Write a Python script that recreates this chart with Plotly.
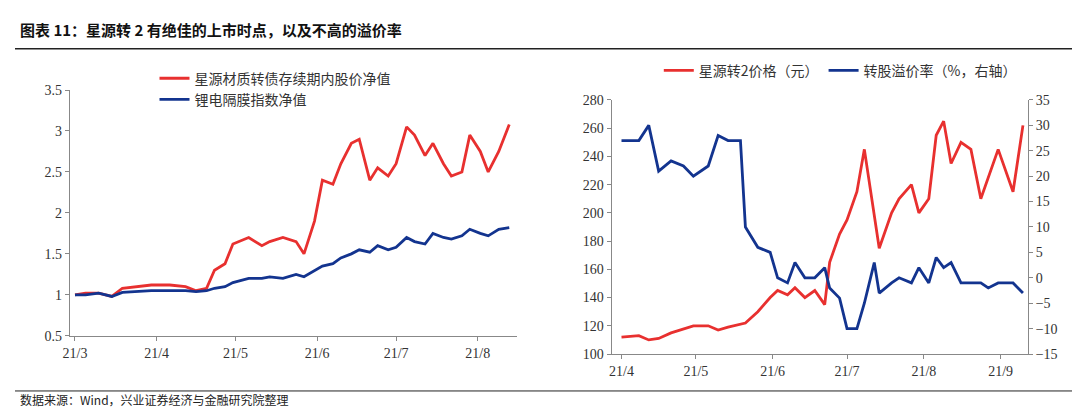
import plotly.graph_objects as go

# left panel: net values
l_dates = ["2021-03-01","2021-03-05","2021-03-10","2021-03-15","2021-03-19","2021-03-24","2021-03-30",
           "2021-04-06","2021-04-12","2021-04-16","2021-04-20","2021-04-23","2021-04-27","2021-04-30",
           "2021-05-06","2021-05-11","2021-05-14","2021-05-19","2021-05-24","2021-05-27","2021-05-31",
           "2021-06-03","2021-06-07","2021-06-10","2021-06-14","2021-06-17","2021-06-21","2021-06-24",
           "2021-06-28","2021-07-01","2021-07-05","2021-07-08","2021-07-12","2021-07-15","2021-07-19",
           "2021-07-22","2021-07-26","2021-07-29","2021-08-02","2021-08-05","2021-08-09","2021-08-13"]
stock_nv = [1.0,1.02,1.02,0.98,1.08,1.1,1.12,1.12,1.1,1.05,1.08,1.3,1.38,1.62,1.7,1.6,1.65,1.7,1.65,1.5,1.9,
            2.4,2.35,2.6,2.85,2.9,2.4,2.55,2.45,2.6,3.05,2.95,2.7,2.85,2.6,2.45,2.5,2.95,2.75,2.5,2.75,3.08]
index_nv = [1.0,1.0,1.02,0.98,1.03,1.04,1.05,1.05,1.05,1.04,1.05,1.08,1.1,1.15,1.2,1.2,1.22,1.2,1.25,1.22,1.3,
            1.35,1.38,1.45,1.5,1.55,1.52,1.6,1.55,1.58,1.7,1.65,1.62,1.75,1.7,1.68,1.72,1.8,1.75,1.72,1.8,1.82]

# right panel: bond price and premium
r_dates = ["2021-04-01","2021-04-08","2021-04-12","2021-04-16","2021-04-21","2021-04-26","2021-04-30",
           "2021-05-06","2021-05-10","2021-05-14","2021-05-19","2021-05-21","2021-05-26","2021-05-31",
           "2021-06-03","2021-06-07","2021-06-10","2021-06-14","2021-06-18","2021-06-22","2021-06-24",
           "2021-06-28","2021-07-01","2021-07-05","2021-07-08","2021-07-12","2021-07-14","2021-07-19",
           "2021-07-22","2021-07-27","2021-07-30","2021-08-03","2021-08-06","2021-08-09","2021-08-12",
           "2021-08-16","2021-08-20","2021-08-24","2021-08-27","2021-08-31","2021-09-06","2021-09-10"]
bond_price = [112,113,110,111,115,118,120,120,117,119,121,122,130,140,145,142,147,140,145,135,165,
              185,195,215,245,200,175,200,210,220,200,210,255,265,235,250,245,210,225,245,215,262]
premium = [27,27,30,21,23,22,20,22,28,27,27,10,6,5,0,-1,3,0,0,2,-2,
           -4,-10,-10,-5,3,-3,-1,0,-1,2,-1,4,2,3,-1,-1,-1,-2,-1,-1,-3]

RED = "#e8302f"
BLUE = "#13348f"
FONT = "Noto Sans CJK SC"

fig = go.Figure()
fig.add_trace(go.Scatter(x=l_dates, y=stock_nv, name="星源材质转债存续期内股价净值", line=dict(color=RED, width=2.8),
                         xaxis="x", yaxis="y", legend="legend"))
fig.add_trace(go.Scatter(x=l_dates, y=index_nv, name="锂电隔膜指数净值", line=dict(color=BLUE, width=2.8),
                         xaxis="x", yaxis="y", legend="legend"))
fig.add_trace(go.Scatter(x=r_dates, y=bond_price, name="星源转2价格（元）", line=dict(color=RED, width=2.8),
                         xaxis="x2", yaxis="y2", legend="legend2"))
fig.add_trace(go.Scatter(x=r_dates, y=premium, name="转股溢价率（%，右轴）", line=dict(color=BLUE, width=2.8),
                         xaxis="x2", yaxis="y3", legend="legend2"))

axis_common = dict(showgrid=False, showline=True, linecolor="#888", ticks="outside", ticklen=4,
                   tickcolor="#888", tickfont=dict(size=14, color="#333", family="Liberation Serif"))

fig.update_layout(
    width=1080, height=412, margin=dict(l=0, r=0, t=0, b=0),
    plot_bgcolor="white", paper_bgcolor="white", font=dict(family=FONT),
    xaxis=dict(domain=[0.051, 0.468], type="date", range=["2021-02-27", "2021-08-16"],
               dtick="M1", tickformat="%y/%-m", anchor="y", **axis_common),
    yaxis=dict(domain=[0.192, 0.811], range=[0.5, 3.5], dtick=0.5, anchor="x", **axis_common),
    xaxis2=dict(domain=[0.556, 0.944], type="date", range=["2021-03-28", "2021-09-12"],
                dtick="M1", tickformat="%y/%-m", anchor="y2", **axis_common),
    yaxis2=dict(domain=[0.146, 0.786], range=[100, 280], dtick=20, anchor="x2", **axis_common),
    yaxis3=dict(range=[-15, 35], dtick=5, overlaying="y2", side="right", anchor="x2", **axis_common),
    legend=dict(x=0.13, y=0.88, xanchor="left", yanchor="top", font=dict(size=14, color="#333"),
                bgcolor="rgba(0,0,0,0)", tracegroupgap=2),
    legend2=dict(x=0.6, y=0.9, xanchor="left", yanchor="top", orientation="h",
                 font=dict(size=14, color="#333"), bgcolor="rgba(0,0,0,0)"),
    annotations=[
        dict(text="<b>图表 11：星源转 2 有绝佳的上市时点，以及不高的溢价率</b>", x=0.003, y=0.995,
             xref="paper", yref="paper", xanchor="left", yanchor="top", showarrow=False,
             font=dict(size=15, color="#111")),
        dict(text="数据来源：Wind，兴业证券经济与金融研究院整理", x=0.003, y=0.005,
             xref="paper", yref="paper", xanchor="left", yanchor="bottom", showarrow=False,
             font=dict(size=12, color="#222")),
    ],
    shapes=[
        dict(type="line", xref="paper", yref="paper", x0=0, x1=1, y0=0.915, y1=0.915,
             line=dict(color="#222", width=1.5)),
        dict(type="line", xref="paper", yref="paper", x0=0, x1=1, y0=0.053, y1=0.053,
             line=dict(color="#222", width=1)),
    ],
)

fig.write_html("out.html")
